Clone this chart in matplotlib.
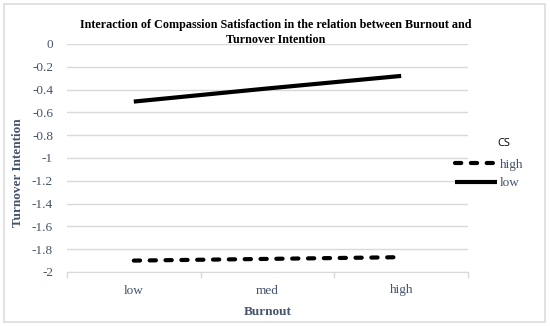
import matplotlib.pyplot as plt
from matplotlib.patches import Rectangle

# data
burnout = ['low', 'med', 'high']
cs_high = [-1.90, -1.885, -1.87]
cs_low = [-0.505, -0.39, -0.28]
yticks = [0, -0.2, -0.4, -0.6, -0.8, -1, -1.2, -1.4, -1.6, -1.8, -2]
ytick_labels = ['0', '-0.2', '-0.4', '-0.6', '-0.8', '-1', '-1.2', '-1.4', '-1.6', '-1.8', '-2']

txt_col = '#44546A'
grid_col = '#D9D9D9'
serif = ['Liberation Serif', 'DejaVu Serif']

fig = plt.figure(figsize=(5.5, 3.26), dpi=100)
ax = fig.add_axes([67/550, 1 - 272/326, (468 - 67)/550, (272 - 44)/326])

x = range(len(burnout))
ax.plot(x, cs_high, color='black', lw=3, ls=(0, (1.5, 2.3)),
        dash_capstyle='round', label='high')
ax.plot(x, cs_low, color='black', lw=3, solid_capstyle='butt', label='low')

ax.set_xlim(-0.5, 2.5)
ax.set_ylim(-2, 0)
ax.set_yticks(yticks)
ax.set_yticklabels(ytick_labels, family=serif, fontsize=9.5, color=txt_col)
ax.set_xticks(list(x))
ax.set_xticklabels(burnout, family=serif, fontsize=9.5, color=txt_col)
ax.set_xticks([-0.5, 0.5, 1.5, 2.5], minor=True)
ax.tick_params(axis='x', which='major', length=0, pad=9)
ax.tick_params(axis='x', which='minor', length=4, color=grid_col, width=1)
ax.tick_params(axis='y', length=0, pad=10)
ax.grid(axis='y', color=grid_col, lw=1)
ax.set_axisbelow(True)
for s in ['top', 'right', 'left']:
    ax.spines[s].set_visible(False)
ax.spines['bottom'].set_color(grid_col)

ax.set_xlabel('Burnout', family=serif, fontsize=9.5, fontweight='bold', color=txt_col, labelpad=7)
fig.text(18/550, 1 - 173/326, 'Turnover Intention', rotation=90, ha='center', va='center',
         family=serif, fontsize=9.5, fontweight='bold', color=txt_col)

fig.text(276/550, 1 - 25/326, 'Interaction of Compassion Satisfaction in the relation between Burnout and',
         ha='center', va='center', family=serif, fontsize=8.7, fontweight='bold')
fig.text(276/550, 1 - 40/326, 'Turnover Intention',
         ha='center', va='center', family=serif, fontsize=8.7, fontweight='bold')

leg = ax.legend(loc='upper left', bbox_to_anchor=(443/550, 1 - 147/326), bbox_transform=fig.transFigure,
                frameon=False, handlelength=3.2, handletextpad=0.2, labelspacing=0.45,
                prop={'family': serif, 'size': 9.5})
for t in leg.get_texts():
    t.set_color(txt_col)
fig.text(497/550, 1 - 143/326, 'CS', ha='left', va='center', family='Open Sans', fontsize=8)

fig.patches.append(Rectangle((4/550, 4/326), 541/550, 318/326, transform=fig.transFigure,
                             fill=False, edgecolor='#DDDDDD', lw=1.2))

fig.savefig('out.png', dpi=100)
